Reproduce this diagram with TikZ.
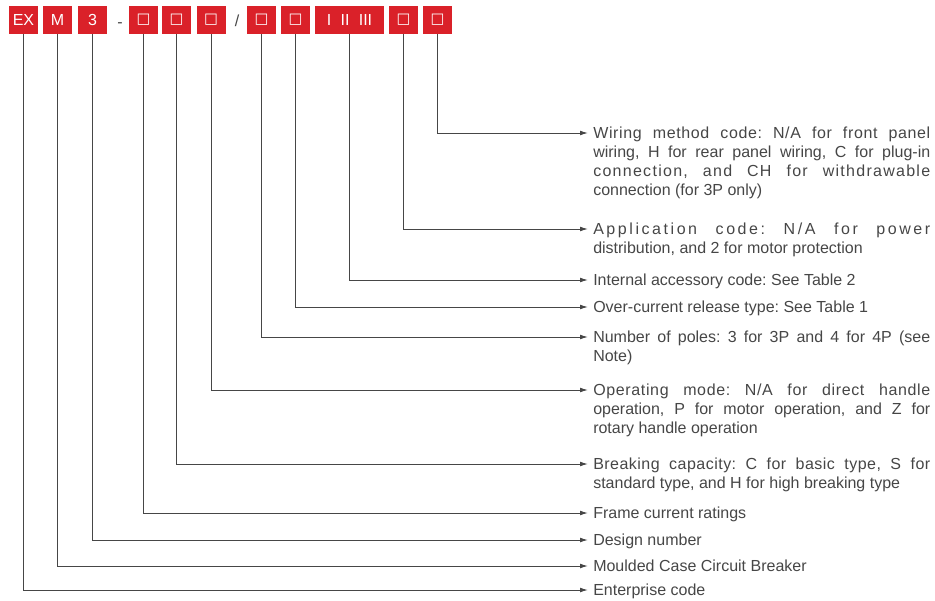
\documentclass[tikz,border=0pt]{standalone}
\usepackage{fontspec}
\setmainfont{Liberation Sans}
\newfontfamily\symfont{DejaVu Sans}
\usetikzlibrary{arrows.meta,calc}
\definecolor{codered}{RGB}{218,33,41}
\definecolor{txtgray}{RGB}{70,70,70}
\definecolor{linegray}{RGB}{70,70,70}
\newcommand{\sq}{{\symfont\fontsize{11pt}{11pt}\selectfont □}}
\newcommand{\ls}[2]{{\addfontfeature{LetterSpace=#1}#2}}
\frenchspacing
\tikzset{
  codebox/.style={fill=codered,text=white,minimum width=21.75pt,minimum height=21pt,inner sep=0pt,font=\fontsize{12pt}{14pt}\selectfont},
  sepmark/.style={text=txtgray,inner sep=0pt,anchor=base,font=\fontsize{12pt}{14pt}\selectfont},
  desc/.style={anchor=base west,inner sep=0pt,text=txtgray,text width=252.75pt,align=justify,
    font=\fontsize{12pt}{14.25pt}\selectfont,execute at begin node={\hyphenpenalty=10000\frenchspacing}},
  conn/.style={draw=linegray,line width=0.75pt,-{Latex[length=6pt,width=3.6pt]}}
}
\begin{document}
\begin{tikzpicture}[x=0.75pt,y=-0.75pt]
\useasboundingbox (0,0) rectangle (935,600);
% code boxes
\node[codebox] (b1) at (23.5,20) {EX};
\node[codebox] (b2) at (57.5,20) {M};
\node[codebox] (b3) at (92.5,20) {3};
\node[sepmark] (d1) at (120,27) {-};
\node[codebox] (b4) at (143.5,20) {\sq};
\node[codebox] (b5) at (176.5,20) {\sq};
\node[codebox] (b6) at (211,20) {\sq};
\node[sepmark] (d2) at (237,26.5) {/};
\node[codebox] (b7) at (261.5,20) {\sq};
\node[codebox] (b8) at (295.5,20) {\sq};
\node[codebox,minimum width=51.75pt] (b9) at (349.5,20) {I\hspace{7pt}II\hspace{7pt}III};
\node[codebox] (b10) at (403.5,20) {\sq};
\node[codebox] (b11) at (437.5,20) {\sq};
% arrow end points
\coordinate (a11) at (588,133);
\coordinate (a10) at (588,229);
\coordinate (a9) at (588,280);
\coordinate (a8) at (588,307);
\coordinate (a7) at (588,337);
\coordinate (a6) at (588,390);
\coordinate (a5) at (588,464);
\coordinate (a4) at (588,513);
\coordinate (a3) at (588,540);
\coordinate (a2) at (588,566);
\coordinate (a1) at (588,590);
% descriptions
\node[desc] (t11) at ($(a11)+(5,5.5)$) {\ls{4}{Wiring method code: N/A for front panel}\linebreak wiring, H for rear panel wiring, C for plug-in\linebreak \ls{8}{connection, and CH for withdrawable}\linebreak connection (for 3P only)};
\node[desc] (t10) at ($(a10)+(5,5.5)$) {\ls{16}{Application code: N/A for power}\linebreak distribution, and 2 for motor protection};
\node[desc] (t9) at ($(a9)+(5,5.5)$) {Internal accessory code: See Table 2};
\node[desc] (t8) at ($(a8)+(5,5.5)$) {Over-current release type: See Table 1};
\node[desc] (t7) at ($(a7)+(5,5.5)$) {Number of poles: 3 for 3P and 4 for 4P (see\linebreak Note)};
\node[desc] (t6) at ($(a6)+(5,5.5)$) {\ls{4}{Operating mode: N/A for direct handle}\linebreak operation, P for motor operation, and Z for\linebreak rotary handle operation};
\node[desc] (t5) at ($(a5)+(5,5.5)$) {\ls{3}{Breaking capacity: C for basic type, S for}\linebreak standard type, and H for high breaking type};
\node[desc] (t4) at ($(a4)+(5,5.5)$) {Frame current ratings};
\node[desc] (t3) at ($(a3)+(5,5.5)$) {Design number};
\node[desc] (t2) at ($(a2)+(5,5.5)$) {Moulded Case Circuit Breaker};
\node[desc] (t1) at ($(a1)+(5,5.5)$) {Enterprise code};
% connectors
\foreach \i in {1,...,11} {
  \draw[conn] (b\i.south) |- (a\i);
}
\end{tikzpicture}
\end{document}
